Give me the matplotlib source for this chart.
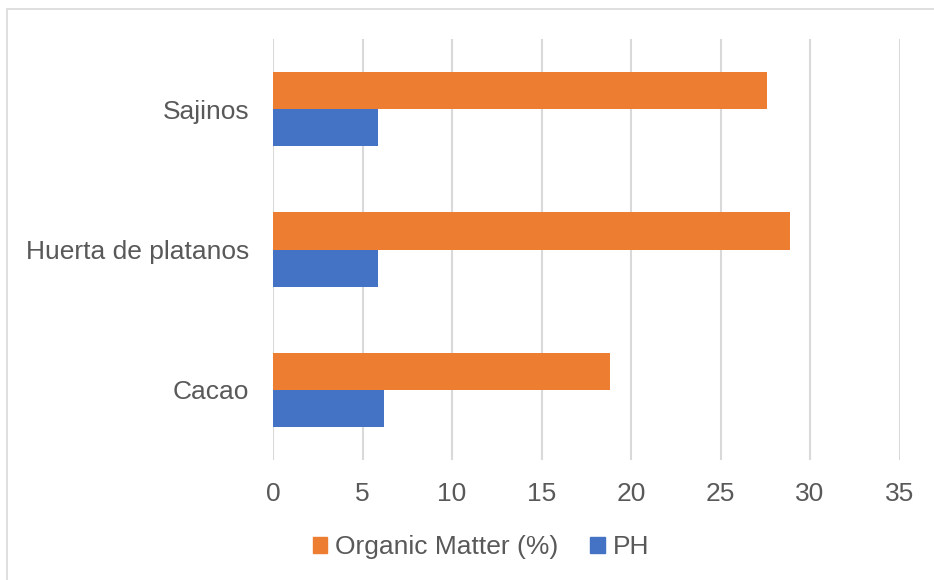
import matplotlib
matplotlib.use("Agg")
import matplotlib.pyplot as plt
from matplotlib.patches import Rectangle, Patch
import numpy as np

plt.rcParams['font.family'] = ['Liberation Sans', 'DejaVu Sans']

categories = ["Cacao", "Huerta de platanos", "Sajinos"]
organic_matter = [18.85, 28.9, 27.6]
ph = [6.18, 5.86, 5.86]
x_ticks = [0, 5, 10, 15, 20, 25, 30, 35]

orange = "#ED7D31"
blue = "#4472C4"
text_gray = "#595959"
grid_gray = "#D9D9D9"

fig = plt.figure(figsize=(9.34, 5.8), dpi=100)
fig.patches.append(Rectangle((7 / 934, -0.1), 2.0, 1 - 9 / 580 + 0.1,
                             transform=fig.transFigure, fill=False,
                             edgecolor=grid_gray, linewidth=1.2))

ax = fig.add_axes([273 / 934, 1 - 460 / 580, (899.5 - 273) / 934, (460 - 39) / 580])

y = np.arange(len(categories))
h = 0.2637
ax.barh(y + h / 2, organic_matter, height=h, color=orange, label="Organic Matter (%)")
ax.barh(y - h / 2, ph, height=h, color=blue, label="PH")

ax.set_xlim(0, 35)
ax.set_ylim(-0.5, len(categories) - 0.5)
ax.set_xticks(x_ticks)
ax.set_xticklabels([str(t) for t in x_ticks])
ax.set_yticks(y)
ax.set_yticklabels(categories)

ax.grid(axis='x', color=grid_gray, linewidth=1.5)
ax.set_axisbelow(True)
for s in ax.spines.values():
    s.set_visible(False)
ax.tick_params(axis='both', length=0, colors=text_gray, labelsize=19)
ax.tick_params(axis='x', pad=16)
ax.tick_params(axis='y', pad=17)

handles = [Patch(color=orange, label="Organic Matter (%)"),
           Patch(color=blue, label="PH")]
leg = fig.legend(handles=handles, loc='center', bbox_to_anchor=(481 / 934, 1 - 547 / 580),
                 ncol=2, frameon=False, fontsize=19, handlelength=0.55, handleheight=0.55,
                 handletextpad=0.3, columnspacing=1.2)
for t in leg.get_texts():
    t.set_color(text_gray)

fig.savefig("out.png", dpi=100)
